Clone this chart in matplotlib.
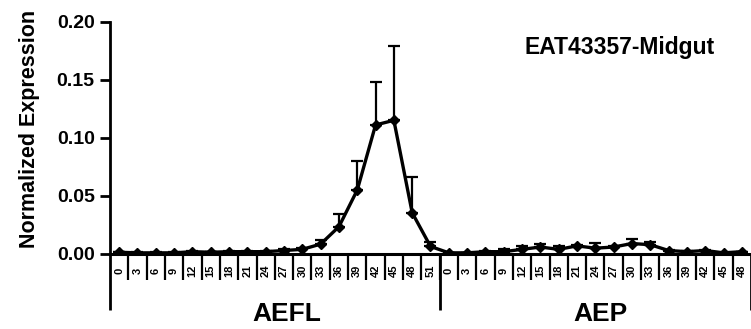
import matplotlib
matplotlib.use("Agg")
import matplotlib.pyplot as plt
import matplotlib.transforms as mtransforms
import numpy as np

plt.rcParams['font.family'] = ['Liberation Sans', 'DejaVu Sans']
plt.rcParams['font.weight'] = 'bold'

aefl_times = [0, 3, 6, 9, 12, 15, 18, 21, 24, 27, 30, 33, 36, 39, 42, 45, 48, 51]
aep_times = [0, 3, 6, 9, 12, 15, 18, 21, 24, 27, 30, 33, 36, 39, 42, 45, 48]
aefl_values = [0.0015, 0.001, 0.001, 0.001, 0.002, 0.0015, 0.002, 0.002, 0.002,
               0.003, 0.004, 0.0085, 0.0235, 0.055, 0.111, 0.115, 0.0355, 0.0065]
aefl_err = [0.0003, 0.0003, 0.0003, 0.0003, 0.0005, 0.0003, 0.0005, 0.0005, 0.0005,
            0.001, 0.001, 0.0035, 0.0105, 0.025, 0.037, 0.064, 0.0305, 0.0035]
aep_values = [0.001, 0.001, 0.002, 0.002, 0.004, 0.006, 0.004, 0.007, 0.005,
              0.006, 0.009, 0.008, 0.003, 0.002, 0.003, 0.001, 0.002]
aep_err = [0.0, 0.0, 0.0005, 0.002, 0.003, 0.003, 0.0025, 0.001, 0.0045,
           0.001, 0.0035, 0.002, 0.0005, 0.0005, 0.0005, 0.0, 0.0]
groups = ["AEFL", "AEP"]
title_text = "EAT43357-Midgut"
y_label = "Normalized Expression"
y_ticks = [0.00, 0.05, 0.10, 0.15, 0.20]

values = np.array(aefl_values + aep_values)
errs = np.array(aefl_err + aep_err)
labels = [str(t) for t in aefl_times] + [str(t) for t in aep_times]
n = len(values)
x = np.arange(n)

fig = plt.figure(figsize=(7.51, 3.29), dpi=100)
ax_h = (254 - 21.5)
ax = fig.add_axes([110/751, 1-254/329, (751-110)/751, ax_h/329])

ax.errorbar(x, values, yerr=[np.zeros(n), errs], fmt='none', ecolor='black',
            elinewidth=1.6, capsize=4.5, capthick=1.6, zorder=2)
ax.plot(x, values, color='black', lw=2.4, marker='D', markersize=5.5, zorder=3)

ax.set_xlim(-0.5, n - 0.5)
ax.set_ylim(0, 0.20)
ax.set_yticks(y_ticks)
ax.set_yticklabels([f"{v:.2f}" for v in y_ticks], fontsize=14, fontweight='bold')
ax.set_ylabel(y_label, fontsize=15.5, fontweight='bold', va='bottom')
ax.yaxis.set_label_coords((40 - 110) / 641, (254 - 129) / ax_h)

for s in ['top', 'right']:
    ax.spines[s].set_visible(False)
ax.spines['left'].set_linewidth(2)
ax.spines['bottom'].set_linewidth(2.2)
ax.tick_params(axis='y', direction='out', length=7, width=2, pad=4)

ax.set_xticks(x)
ax.set_xticklabels(labels, rotation=90, fontsize=8, fontweight='bold', va='center')
ax.tick_params(axis='x', which='major', length=0, pad=12)
ax.set_xticks(np.arange(0.5, n - 1, 1.0), minor=True)
ax.tick_params(axis='x', which='minor', direction='out', length=19, width=1.6)

trans = mtransforms.blended_transform_factory(ax.transData, ax.transAxes)
bottom_frac = -(310 - 254) / ax_h
for xb in [-0.5, len(aefl_values) - 0.5, n - 0.5]:
    ax.plot([xb, xb], [0, bottom_frac], color='black', lw=2, transform=trans,
            clip_on=False, solid_capstyle='butt')

ax.text(9.15, -(321 - 254) / ax_h, groups[0], transform=trans,
        ha='center', va='baseline', fontsize=19, fontweight='bold')
ax.text(26.27, -(321 - 254) / ax_h, groups[1], transform=trans,
        ha='center', va='baseline', fontsize=19, fontweight='bold')

fig.text(620/751, 1-54.3/329, title_text, ha='center', va='baseline',
         fontsize=16.5, fontweight='bold')

fig.savefig("out.png", dpi=100)
